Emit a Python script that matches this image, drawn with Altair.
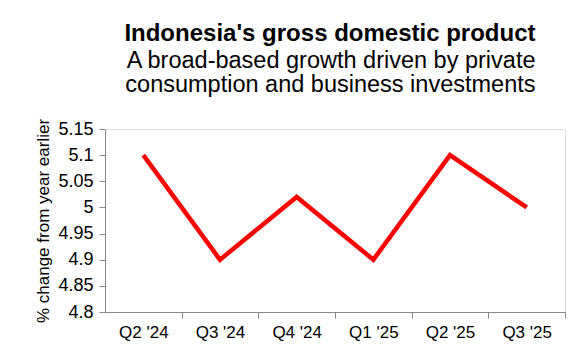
import altair as alt
import pandas as pd

quarters = ["Q2 '24", "Q3 '24", "Q4 '24", "Q1 '25", "Q2 '25", "Q3 '25"]
growth = [5.10, 4.90, 5.02, 4.90, 5.10, 5.00]
y_ticks = [4.8, 4.85, 4.9, 4.95, 5.0, 5.05, 5.1, 5.15]

df = pd.DataFrame({"quarter": quarters, "growth": growth})

W, H = 460, 183
half = W / len(quarters) / 2

chart = alt.Chart(df).mark_line(color="#FF0000", strokeWidth=4.5).encode(
    x=alt.X("quarter:O", sort=quarters,
            scale=alt.Scale(type="point", padding=0.5),
            axis=alt.Axis(title=None, labelAngle=0, tickOffset=half, labelOffset=-half,
                          labelFontSize=17, labelPadding=6, tickSize=6)),
    y=alt.Y("growth:Q", scale=alt.Scale(domain=[4.8, 5.15], nice=False, zero=False),
            axis=alt.Axis(title="% change from year earlier", values=y_ticks, format="~g",
                          labelFontSize=18, titleFontSize=17, titleFontWeight="normal",
                          tickSize=6, labelPadding=6, titlePadding=5, grid=False)),
).properties(
    width=W, height=H,
    autosize="none",
    padding={"left": 97, "top": 121, "right": 7, "bottom": 40},
    title=alt.Title(
        "Indonesia's gross domestic product",
        subtitle=["A broad-based growth driven by private", "consumption and business investments"],
        anchor="end", dx=-30, offset=22,
        font="Liberation Sans", fontSize=24, fontWeight="bold", color="black",
        subtitleFont="Liberation Sans", subtitleFontSize=23.5, subtitleColor="black",
        subtitleLineHeight=24, subtitlePadding=3,
    ),
).configure_view(stroke=None).configure_axis(
    labelFont="Liberation Sans", titleFont="Liberation Sans",
    labelColor="black", titleColor="black", domainColor="black", tickColor="black",
    domainWidth=1.5, tickWidth=1.5,
).configure(background="white")

chart.save("out.html", embed_options={"renderer": "svg", "actions": False})
